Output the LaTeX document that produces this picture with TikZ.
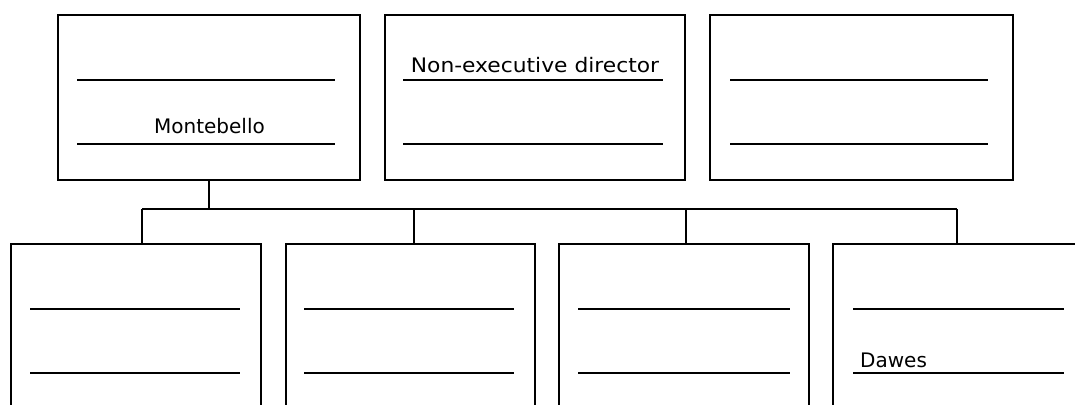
\documentclass[tikz,border=0pt]{standalone}
\usepackage{fontspec}
\setmainfont{DejaVu Sans}
\usetikzlibrary{calc}
\begin{document}
\begin{tikzpicture}[x=1pt,y=-1pt,
  orgbox/.style={draw=black,line width=2.2pt,fill=none,inner sep=0pt,anchor=north west,minimum height=165pt},
  lowbox/.style={orgbox,minimum height=220pt},
  link/.style={draw=black,line width=2pt},
  blank/.style={draw=black,line width=1.8pt},
  hand/.style={inner sep=0pt,font=\fontsize{20}{23}\selectfont}]
\useasboundingbox (0,0) rectangle (1075,404);
\clip (0,0) rectangle (1075,404);
\fill[white] (0,0) rectangle (1075,404);

% upper row
\node[orgbox,minimum width=302pt] (t1) at (57,14) {};
\node[orgbox,minimum width=300pt] (t2) at (384,14) {};
\node[orgbox,minimum width=303pt] (t3) at (709,14) {};

% lower row (runs past the lower edge)
\node[lowbox,minimum width=250pt] (b1) at (10,243) {};
\node[lowbox,minimum width=249pt] (b2) at (285,243) {};
\node[lowbox,minimum width=250pt] (b3) at (558,243) {};
\node[lowbox,minimum width=256pt] (b4) at (832,243) {};

% blank lines to fill in
\foreach \b/\l/\r in {t1/20/26, t2/19/23, t3/21/26, b1/20/22, b2/19/22, b3/20/20, b4/21/26} {
  \draw[blank] ($(\b.north west)+(\l,66)$) -- ($(\b.north east)+(-\r,66)$);
  \draw[blank] ($(\b.north west)+(\l,130)$) -- ($(\b.north east)+(-\r,130)$);
}

% names written on the lines
\node[hand,anchor=base] (mont) at (209.5,133) {\scalebox{1.0}[1]{Montebello}};
\node[hand,anchor=base] (ned) at (535,72.5) {\scalebox{1.09}[1]{Non-executive director}};
\node[hand,anchor=base west] (dawes) at (860,367) {\scalebox{1.0}[1]{Dawes}};

% reporting lines
\coordinate (d1) at (142,209);
\coordinate (d2) at (414,209);
\coordinate (d3) at (686,209);
\coordinate (d4) at (957,209);
\draw[link] (t1.south) -- (t1.south |- d1);
\draw[link] (d1) -- (d4);
\foreach \d/\b in {d1/b1, d2/b2, d3/b3, d4/b4}
  \draw[link] (\d) -- (\d |- \b.north);
\end{tikzpicture}
\end{document}
